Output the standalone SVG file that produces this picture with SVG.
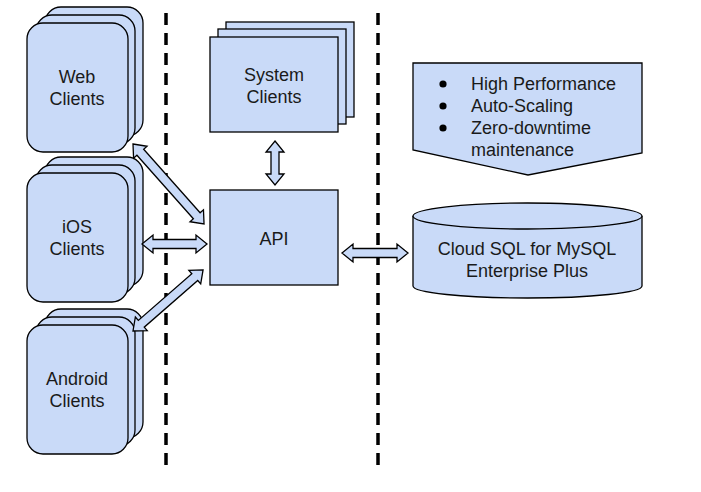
<svg xmlns="http://www.w3.org/2000/svg" width="701" height="492" viewBox="0 0 701 492">
<style>
.s{fill:#c9daf8;stroke:#000;stroke-width:1.3}
.t{font-family:"Liberation Sans",Arial,sans-serif;font-size:18px;fill:#1a1a1a}
.c{text-anchor:middle}
.d{stroke:#000;stroke-width:3.5;stroke-dasharray:12 8;fill:none}
</style>
<rect width="701" height="492" fill="#fff"/>
<g id="dividers">
<line class="d" x1="166" y1="13" x2="166" y2="467"/>
<line class="d" x1="378" y1="13" x2="378" y2="467"/>
</g>
<g id="web-clients">
<rect class="s" x="45" y="7" width="98" height="129" rx="16"/>
<rect class="s" x="36" y="15" width="99" height="129" rx="16"/>
<rect class="s" x="27" y="23" width="101" height="129" rx="16"/>
<text class="t c" x="77" y="83">Web</text>
<text class="t c" x="77" y="105">Clients</text>
</g>
<g id="ios-clients">
<rect class="s" x="45" y="157" width="98" height="129" rx="16"/>
<rect class="s" x="36" y="165" width="99" height="129" rx="16"/>
<rect class="s" x="27" y="173" width="101" height="129" rx="16"/>
<text class="t c" x="77" y="233">iOS</text>
<text class="t c" x="77" y="255">Clients</text>
</g>
<g id="android-clients">
<rect class="s" x="45" y="309" width="98" height="129" rx="16"/>
<rect class="s" x="36" y="317" width="99" height="129" rx="16"/>
<rect class="s" x="27" y="325" width="101" height="129" rx="16"/>
<text class="t c" x="77" y="385">Android</text>
<text class="t c" x="77" y="407">Clients</text>
</g>
<g id="system-clients">
<rect class="s" x="226" y="22" width="128" height="95"/>
<rect class="s" x="218" y="29" width="128" height="95"/>
<rect class="s" x="210" y="37" width="128" height="95"/>
<text class="t c" x="274" y="81">System</text>
<text class="t c" x="274" y="103">Clients</text>
</g>
<g id="api">
<rect class="s" x="210" y="190" width="128" height="95"/>
<text class="t c" x="274" y="245">API</text>
</g>
<g id="features">
<path class="s" d="M413,63 L642,63 L642,153 L528,175 L413,150 Z"/>
<circle cx="443" cy="84" r="3.6" fill="#000"/>
<circle cx="443" cy="106" r="3.6" fill="#000"/>
<circle cx="443" cy="128" r="3.6" fill="#000"/>
<text class="t" x="471" y="90">High Performance</text>
<text class="t" x="471" y="112">Auto-Scaling</text>
<text class="t" x="471" y="134">Zero-downtime</text>
<text class="t" x="471" y="156">maintenance</text>
</g>
<g id="cloud-sql">
<path class="s" d="M413,216 L413,286 A114.5,12 0 0 0 642,286 L642,216 A114.5,13 0 0 0 413,216 Z"/>
<path class="s" d="M413,216 A114.5,13 0 0 0 642,216"/>
<text class="t c" x="527" y="255">Cloud SQL for MySQL</text>
<text class="t c" x="527" y="277">Enterprise Plus</text>
</g>
<g id="connectors">
<polygon class="s" points="0,0 11,-9 11,-4.5 96,-4.5 96,-9 107,0 96,9 96,4.5 11,4.5 11,9" transform="translate(133,144) rotate(48.4)"/>
<polygon class="s" points="142,244 153,235 153,239.5 196,239.5 196,235 207,244 196,253 196,248.5 153,248.5 153,253"/>
<polygon class="s" points="0,0 11,-9 11,-4.5 82,-4.5 82,-9 93,0 82,9 82,4.5 11,4.5 11,9" transform="translate(133,331) rotate(-41.1)"/>
<polygon class="s" points="275,141 284,152 279,152 279,174 284,174 275,185 266,174 271,174 271,152 266,152"/>
<polygon class="s" points="342,253 353,244 353,248.5 397,248.5 397,244 408,253 397,262 397,257.5 353,257.5 353,262"/>
</g>
</svg>
